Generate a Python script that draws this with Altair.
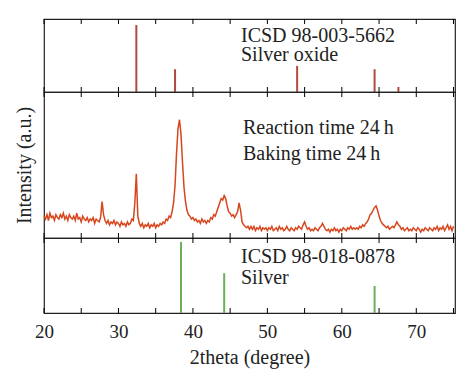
import altair as alt
import pandas as pd

# ---- data ----
ag2o_pos = [32.4, 37.6, 54.0, 64.4, 67.6]
ag2o_int = [100, 34, 39, 34, 7.5]

ag_pos = [38.4, 44.2, 64.4]
ag_int = [100, 56, 38]

x_start = 20.0
x_step = 0.2
xrd_int = [
    15, 13, 16, 12, 17, 14, 15, 12, 16, 14,
    13, 16, 14, 17, 13, 15, 12, 16, 14, 13,
    15, 12, 17, 13, 14, 11, 15, 13, 12, 14,
    11, 13, 12, 14, 10, 13, 12, 11, 14, 25,
    16, 12, 10, 12, 9, 11, 10, 12, 9, 11,
    10, 8, 11, 9, 10, 8, 11, 9, 10, 13,
    12, 24, 44, 15, 10, 8, 10, 7, 9, 8,
    10, 7, 9, 8, 10, 7, 9, 8, 10, 9,
    11, 10, 13, 12, 15, 14, 18, 24, 36, 58,
    75, 81, 71, 52, 35, 25, 19, 16, 15, 13,
    14, 12, 13, 11, 12, 10, 13, 11, 12, 10,
    12, 11, 14, 13, 16, 15, 18, 21, 24, 27,
    26, 29, 27, 22, 18, 17, 15, 16, 14, 16,
    18, 24, 19, 11, 9, 8, 7, 8, 6, 8,
    6, 8, 5, 7, 6, 8, 5, 7, 6, 7,
    5, 7, 6, 8, 5, 6, 7, 5, 8, 6,
    7, 5, 6, 8, 6, 5, 7, 6, 5, 7,
    6, 8, 7, 6, 9, 11, 8, 6, 7, 5,
    6, 5, 7, 6, 5, 7, 8, 10, 8, 6,
    5, 6, 4, 6, 5, 7, 5, 6, 4, 6,
    5, 7, 6, 5, 7, 6, 8, 6, 7, 6,
    7, 6, 8, 7, 9, 8, 10, 11, 13, 16,
    17, 19, 21, 22, 19, 15, 12, 10, 9, 8,
    7, 8, 6, 7, 8, 7, 9, 11, 9, 8,
    6, 7, 5, 6, 7, 5, 6, 5, 7, 6,
    5, 7, 6, 4, 6, 5, 7, 6, 5, 7,
    6, 5, 7, 6, 8, 5, 7, 6, 8, 5,
    7, 9, 6, 8, 5, 8,
]
tick_vals = [20, 25, 30, 35, 40, 45, 50, 55, 60, 65, 70, 75]
x_labels = [20, 30, 40, 50, 60, 70]

# ---- style ----
FONT = "Liberation Serif"
W = 411
H_TOP, H_MID, H_BOT = 73, 146, 75
XDOM = [20, 75.2]
C_OX = "#b04a3c"
C_XRD = "#d8461e"
C_AG = "#6cae5c"
TXT = "#222222"

xrd_df = pd.DataFrame({
    "x": [round(x_start + i * x_step, 1) for i in range(len(xrd_int))],
    "y": xrd_int,
})
ox_df = pd.DataFrame({"x": ag2o_pos, "y": ag2o_int})
ag_df = pd.DataFrame({"x": ag_pos, "y": ag_int})
tick_df = pd.DataFrame({"x": tick_vals})

xs = alt.Scale(domain=XDOM, nice=False, zero=False)


def ticks(h, xaxis):
    base = alt.Chart(tick_df)
    top = base.mark_rule(color="black", strokeWidth=1).encode(
        x=alt.X("x:Q", scale=xs, axis=xaxis), y=alt.value(0), y2=alt.value(5))
    bot = base.mark_rule(color="black", strokeWidth=1).encode(
        x=alt.X("x:Q", scale=xs, axis=xaxis), y=alt.value(h), y2=alt.value(h - 5))
    return [top, bot]


def label(text, x, y):
    return alt.Chart(pd.DataFrame({"a": [0]})).mark_text(
        text=text, font=FONT, fontSize=20, align="left", baseline="alphabetic",
        color=TXT).encode(x=alt.value(x), y=alt.value(y))


# top panel
top_lines = alt.Chart(ox_df).mark_rule(color=C_OX, strokeWidth=2).encode(
    x=alt.X("x:Q", scale=xs, axis=None),
    y=alt.Y("y:Q", scale=alt.Scale(domain=[0, 109], nice=False), axis=None),
    y2=alt.datum(0),
)
top = alt.layer(top_lines, *ticks(H_TOP, None),
                label("ICSD 98-003-5662", 197, 23),
                label("Silver oxide", 197, 42)).properties(width=W, height=H_TOP)

# middle panel
mid_line = alt.Chart(xrd_df).mark_line(color=C_XRD, strokeWidth=1.5).encode(
    x=alt.X("x:Q", scale=xs, axis=None),
    y=alt.Y("y:Q", scale=alt.Scale(domain=[0, 100], nice=False),
            axis=alt.Axis(title="Intensity (a.u.)", labels=False, ticks=False,
                          domain=False, grid=False, titleFont=FONT,
                          titleFontSize=20, titleFontWeight="normal",
                          titleColor=TXT, titlePadding=10)),
)
mid = alt.layer(mid_line, *ticks(H_MID, None),
                label("Reaction time 24\u2009h", 199, 42),
                label("Baking time 24\u2009h", 199, 68)).properties(width=W, height=H_MID)

# bottom panel
bot_axis = alt.Axis(title="2theta (degree)", values=x_labels, ticks=False,
                    domain=False, grid=False, labelFont=FONT,
                    labelFontSize=19, labelColor=TXT, labelFlush=False,
                    labelPadding=9, titleFont=FONT, titleFontSize=20,
                    titleFontWeight="normal", titleColor=TXT,
                    titlePadding=6)
bot_lines = alt.Chart(ag_df).mark_rule(color=C_AG, strokeWidth=2).encode(
    x=alt.X("x:Q", scale=xs, axis=bot_axis),
    y=alt.Y("y:Q", scale=alt.Scale(domain=[0, 105.6], nice=False), axis=None),
    y2=alt.datum(0),
)
bot = alt.layer(bot_lines, *ticks(H_BOT, bot_axis),
                label("ICSD 98-018-0878", 197, 25),
                label("Silver", 197, 46)).properties(width=W, height=H_BOT)

chart = alt.vconcat(top, mid, bot, spacing=0, bounds="flush").properties(
    padding={"left": 5, "top": 9, "right": 5, "bottom": 5}
).configure_view(stroke=TXT, strokeWidth=1.2).configure_axis(grid=False)

chart.save("out.html", embed_options={"renderer": "svg", "actions": False})
